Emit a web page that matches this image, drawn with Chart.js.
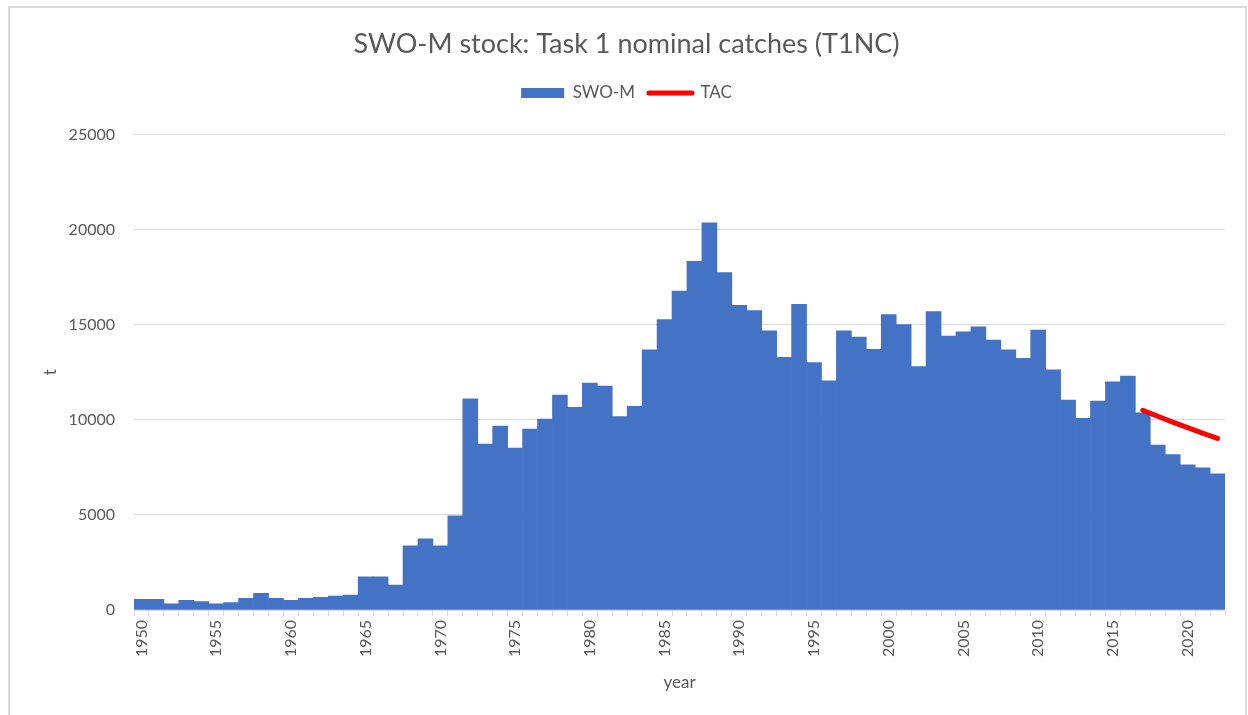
<!DOCTYPE html>
<html>
<head>
<meta charset="utf-8">
<script src="https://cdn.jsdelivr.net/npm/chart.js@4.4.1/dist/chart.umd.min.js"></script>
<style>
  html, body { margin: 0; padding: 0; background: #ffffff; }
  #wrap { position: relative; width: 1248px; height: 715px; }
</style>
</head>
<body>
<div id="wrap"><canvas id="c" width="1248" height="715"></canvas></div>
<script>
const years = [
  1950,1951,1952,1953,1954,1955,1956,1957,1958,1959,
  1960,1961,1962,1963,1964,1965,1966,1967,1968,1969,
  1970,1971,1972,1973,1974,1975,1976,1977,1978,1979,
  1980,1981,1982,1983,1984,1985,1986,1987,1988,1989,
  1990,1991,1992,1993,1994,1995,1996,1997,1998,1999,
  2000,2001,2002,2003,2004,2005,2006,2007,2008,2009,
  2010,2011,2012,2013,2014,2015,2016,2017,2018,2019,
  2020,2021,2022
];
const catches = [
  560,560,330,510,440,330,385,615,880,615,
  510,615,670,735,790,1750,1750,1315,3370,3740,
  3370,4950,11100,8720,9670,8510,9510,10040,11300,10650,
  11930,11770,10170,10700,13670,15260,16770,18330,20350,17740,
  16020,15740,14670,13280,16070,13000,12040,14670,14350,13700,
  15530,15000,12790,15680,14400,14620,14890,14190,13670,13230,
  14720,12630,11040,10070,10980,12000,12300,10370,8670,8170,
  7630,7470,7160
];
const tacYears = [2017,2018,2019,2020,2021,2022];
const tacValues = [10500,10185,9879,9583,9296,9017];
const yTicks = [0,5000,10000,15000,20000,25000];
const labelYears = [1950,1955,1960,1965,1970,1975,1980,1985,1990,1995,2000,2005,2010,2015,2020];

const tacSeries = years.map(y => {
  const i = tacYears.indexOf(y);
  return i >= 0 ? tacValues[i] : null;
});

const GRAY_TEXT = '#595959';
const GRID = '#d9d9d9';
Chart.defaults.font.family = 'Lato, "Open Sans", sans-serif';
Chart.defaults.color = GRAY_TEXT;

const framePlugin = {
  id: 'frame',
  beforeLayout(chart) {
    const lg = chart.legend;
    if (lg && !lg._extraGap) {
      const origFit = lg.fit.bind(lg);
      lg.fit = function () { origFit(); this.height += 23; };
      lg._extraGap = true;
    }
  },
  beforeDraw(chart) {
    const ctx = chart.ctx;
    ctx.save();
    ctx.fillStyle = '#ffffff';
    ctx.fillRect(0, 0, chart.width, chart.height);
    ctx.strokeStyle = GRID;
    ctx.lineWidth = 2;
    ctx.strokeRect(9, 7, 1237, 730);
    ctx.restore();
  }
};

new Chart(document.getElementById('c'), {
  type: 'bar',
  data: {
    labels: years,
    datasets: [
      {
        type: 'line',
        label: 'TAC',
        data: tacSeries,
        borderColor: '#ff0000',
        backgroundColor: '#ff0000',
        borderWidth: 5,
        borderCapStyle: 'round',
        borderJoinStyle: 'round',
        pointRadius: 0,
        pointHoverRadius: 0,
        spanGaps: false,
        order: 1
      },
      {
        label: 'SWO-M',
        data: catches,
        backgroundColor: '#4472c4',
        borderWidth: 0,
        categoryPercentage: 1.0,
        barPercentage: 1.0,
        order: 2
      }
    ]
  },
  options: {
    responsive: false,
    animation: false,
    layout: { padding: { left: 28, right: 23, top: 0, bottom: 0 } },
    plugins: {
      title: {
        display: true,
        text: 'SWO-M stock: Task 1 nominal catches (T1NC)',
        color: GRAY_TEXT,
        font: { size: 27, weight: 'normal' },
        padding: { top: 28, bottom: 10 }
      },
      legend: {
        display: true,
        position: 'top',
        labels: {
          usePointStyle: true,
          pointStyleWidth: 43,
          boxHeight: 10,
          padding: 14,
          color: GRAY_TEXT,
          font: { size: 17 },
          generateLabels(chart) {
            return [
              { text: 'SWO-M', fillStyle: '#4472c4', strokeStyle: '#4472c4', lineWidth: 0, pointStyle: 'rect', datasetIndex: 1, hidden: false, fontColor: GRAY_TEXT },
              { text: 'TAC', fillStyle: '#ff0000', strokeStyle: '#ff0000', lineWidth: 5, lineCap: 'round', pointStyle: 'line', datasetIndex: 0, hidden: false, fontColor: GRAY_TEXT }
            ];
          }
        }
      },
      tooltip: { enabled: false }
    },
    scales: {
      x: {
        offset: true,
        grid: {
          offset: true,
          drawOnChartArea: false,
          drawTicks: true,
          tickLength: 6,
          color: GRID
        },
        border: { display: true, color: GRID, width: 1 },
        ticks: {
          autoSkip: false,
          maxRotation: 90,
          minRotation: 90,
          padding: 4,
          color: GRAY_TEXT,
          font: { size: 16 },
          callback(value, index) {
            const y = years[index];
            return labelYears.includes(y) ? String(y) : '';
          }
        },
        title: {
          display: true,
          text: 'year',
          color: GRAY_TEXT,
          font: { size: 17 },
          padding: { top: 22, bottom: 22 }
        },
        afterFit(scale) { scale.height = 105; }
      },
      y: {
        min: 0,
        max: 25000,
        afterBuildTicks(scale) { scale.ticks = yTicks.map(v => ({ value: v })); },
        grid: { color: GRID, lineWidth: 1, drawTicks: false },
        border: { display: false },
        ticks: {
          padding: 19,
          color: GRAY_TEXT,
          font: { size: 16 },
          callback(v) { return String(v); }
        },
        title: {
          display: true,
          text: 't',
          color: GRAY_TEXT,
          font: { size: 17 },
          padding: { top: 12, bottom: 12 }
        },
        afterFit(scale) { scale.width = 106; }
      }
    }
  },
  plugins: [framePlugin]
});
</script>
</body>
</html>
